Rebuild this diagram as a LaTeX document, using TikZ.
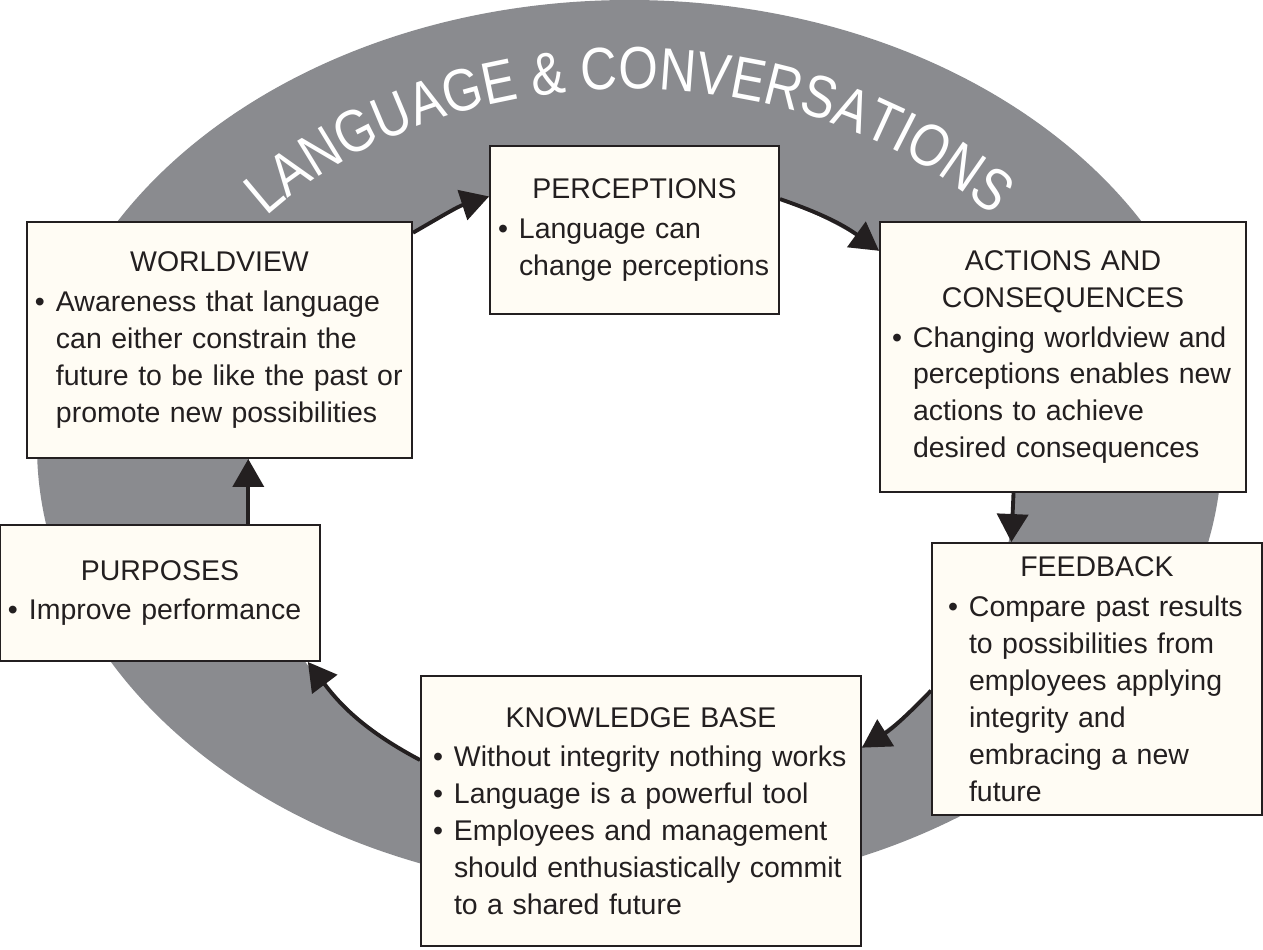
\documentclass[tikz,border=0pt]{standalone}
\usepackage{fontspec}
\setmainfont{Liberation Sans}
\newfontfamily\arcfont[FakeStretch=0.85]{Liberation Sans}
\usetikzlibrary{arrows.meta,decorations.text}

\definecolor{ringgray}{RGB}{138,139,143}
\definecolor{boxfill}{RGB}{255,252,244}
\definecolor{ink}{RGB}{35,31,32}

\newcommand{\boxtitle}[1]{{\centering #1\par}\vspace{0.6mm}}
\newcommand{\itm}[1]{\par\noindent\makebox[4.2mm][l]{\textbullet}#1}
\newcommand{\nxt}[1]{\par\noindent\hspace*{4.2mm}#1}

\tikzset{
  box/.style={draw=ink, fill=boxfill, line width=1.1pt, align=left, inner xsep=1.6mm, inner ysep=0pt,
    font=\fontsize{16.2}{21}\selectfont, text=ink},
  arr/.style={draw=ink, line width=2.2pt, -{Triangle[length=5.6mm,width=6.2mm]}},
}

\begin{document}
\begin{tikzpicture}[x=0.2mm,y=-0.2mm]
\useasboundingbox (0,0) rectangle (1263,949);

% the ring
\fill[ringgray] (629.5,446) ellipse [x radius=592.5, y radius=446];
\fill[white] (630,493) ellipse [x radius=383, y radius=318];

\path[decorate, decoration={text along path, text align=fit to path, text color=white,
    text={|\arcfont\fontsize{34}{34}\selectfont|LANGUAGE {\&} CONVERSATIONS}}]
  (629.5,446) ++(-140:474 and 357) arc[start angle=-140, end angle=-40, x radius=474, y radius=357];

% boxes
\node[box, text width=54.6mm, minimum height=33.6mm] (perceptions) at (634.5,230)
  {\boxtitle{PERCEPTIONS}\itm{Language can}\nxt{change perceptions}};
\node[box, text width=73.8mm, minimum height=47.2mm] (worldview) at (219.5,340)
  {\boxtitle{WORLDVIEW}\itm{Awareness that language}\nxt{can either constrain the}%
   \nxt{future to be like the past or}\nxt{promote new possibilities}};
\node[box, inner xsep=2.4mm, text width=68.4mm, minimum height=54mm] (actions) at (1063,357)
  {\boxtitle{ACTIONS AND\\CONSEQUENCES}\itm{Changing worldview and}\nxt{perceptions enables new}%
   \nxt{actions to achieve}\nxt{desired consequences}};
\node[box, text width=60.8mm, minimum height=27.2mm] (purposes) at (160,593)
  {\boxtitle{PURPOSES}\itm{Improve performance}};
\node[box, inner xsep=3.2mm, text width=59.6mm, minimum height=54.4mm] (feedback) at (1097,679)
  {\boxtitle{FEEDBACK}\itm{Compare past results}\nxt{to possibilities from}\nxt{employees applying}%
   \nxt{integrity and}\nxt{embracing a new}\nxt{future}};
\node[box, inner xsep=2.4mm, text width=83.2mm, minimum height=54mm] (knowledge) at (641,811)
  {\boxtitle{KNOWLEDGE BASE}\itm{Without integrity nothing works}\itm{Language is a powerful tool}%
   \itm{Employees and management}\nxt{should enthusiastically commit}\nxt{to a shared future}};

% arrows
\draw[arr] (worldview.29) to[out=30,in=198] (perceptions.167);
\draw[arr] (perceptions.12) to[out=-19,in=144] (actions.150);
\draw[arr] (actions.250) -- (feedback.122);
\draw[arr] (feedback.184) to[out=226,in=32] (knowledge.16);
\draw[arr] (knowledge.167) to[out=152,in=-53] (purposes.-25);
\draw[arr] (purposes.38) -- (purposes.38 |- worldview.south);
\end{tikzpicture}
\end{document}
